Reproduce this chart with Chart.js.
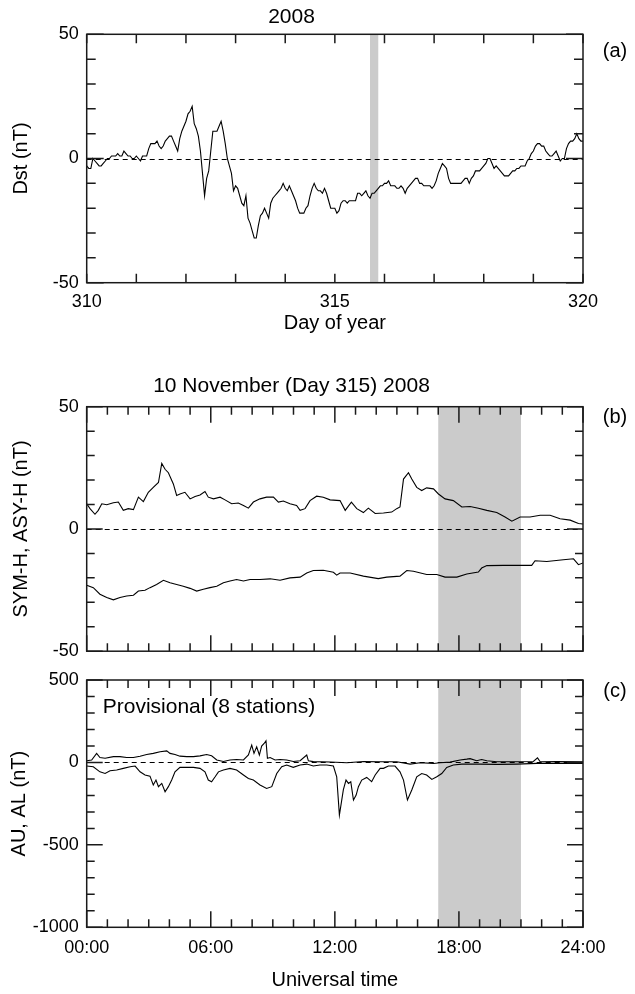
<!DOCTYPE html>
<html><head><meta charset="utf-8">
<script src="https://cdn.jsdelivr.net/npm/chart.js@4/dist/chart.umd.min.js"></script>
<style>
html,body{margin:0;padding:0;background:#fff;}
#wrap{position:relative;width:635px;height:994px;overflow:hidden;background:#fff;}
canvas{position:absolute;left:0;}
</style></head><body>
<div id="wrap">
<canvas id="ca" width="635" height="350" style="top:0px"></canvas>
<canvas id="cb" width="635" height="310" style="top:360px"></canvas>
<canvas id="cc" width="635" height="334" style="top:660px"></canvas>
</div>
<script>
// ---------- DATA ----------
// (a) hourly Dst (nT), starting day 310 00 UT, one value per hour
const dstStartDay = 310;
const dstHourly = [
 -3,-4,-4,0,-1,-2,-3,-3,-2,-1,
 0,0,1,1,1,2,1,1,3,2,
 1,1,0,0,1,0,-1,1,1,1,
 4,6,6,6,7,5,4,5,7,8,
 9,9,7,5,3,8,11,13,15,18,
 19,21,14,12,9,3,-6,-15,-8,-5,
 3,11,11,11,13,15,11,6,0,-3,
 -6,-13,-11,-12,-15,-18,-19,-15,-24,-26,
 -29,-32,-32,-27,-23,-22,-20,-22,-24,-18,
 -16,-15,-14,-13,-12,-10,-12,-13,-11,-13,
 -15,-17,-20,-22,-22,-22,-20,-19,-15,-12,
 -10,-12,-13,-13,-14,-12,-14,-17,-20,-20,
 -20,-22,-21,-18,-17,-17,-18,-17,-17,-17,
 -17,-14,-14,-15,-14,-13,-15,-16,-14,-14,
 -13,-12,-11,-11,-10,-10,-9,-11,-11,-11,
 -12,-12,-11,-12,-14,-12,-11,-10,-9,-8,
 -8,-10,-10,-11,-11,-11,-11,-12,-11,-9,
 -6,-4,-2,-3,-4,-8,-10,-10,-10,-10,
 -10,-10,-9,-8,-8,-10,-8,-7,-5,-5,
 -5,-4,-3,-2,0,0,-2,-4,-3,-4,
 -5,-6,-7,-7,-7,-6,-5,-5,-4,-4,
 -3,-3,-3,-1,0,2,3,5,6,6,
 5,5,3,2,1,1,2,3,1,-1,
 0,0,4,6,7,7,8,10,8,7,
 7];
const dayTickValues = [310, 315, 320];
const dstTickValues = [-50, 0, 50];
const dayBand = [315.708, 315.875];   // 17-21 UT on day 315

// (b) ASY-H and SYM-H on 10 Nov 2008 (UT hours, nT)
const asyTime = [0,0.16,0.4,0.56,0.73,0.97,1.29,1.53,1.77,2.01,2.26,2.5,2.74,2.98,3.22,3.47,3.63,3.79,3.95,4.19,4.35,4.51,4.75,5.0,5.24,5.48,5.72,5.88,6.13,6.45,6.69,7.01,7.33,7.58,7.82,8.06,8.38,8.7,9.03,9.27,9.51,9.83,10.15,10.32,10.56,10.8,11.12,11.44,11.77,12.25,12.5,12.8,13.06,13.38,13.62,13.95,14.35,14.75,14.99,15.15,15.32,15.56,15.72,15.96,16.2,16.44,16.77,17.01,17.33,17.73,18.14,18.54,18.94,19.35,19.83,20.23,20.56,20.96,21.44,21.93,22.41,22.89,23.38,23.78,24];
const asyH = [10.3,8.3,6,7.6,10.3,9.9,10.7,11,7.6,8.3,7.9,13,11.2,15,17,19,26.8,24.4,23,18.4,13.7,14.3,15,12.3,13.3,13.9,15.3,13,12.3,13,11.9,10.3,10.6,9.6,8.5,11,12.3,13,13,11,11.4,10.3,9.6,7.6,8.3,11.6,13.4,13,11.9,11.6,7.6,11,8.3,6.7,8.5,6.3,6.5,6.9,8.3,9,20.4,23,20.4,17,15.7,16.8,16.4,14.3,12.3,11.6,9,9.2,8.5,7.6,6.7,4.9,3.2,4.9,4.9,5.6,5.6,4.2,3.6,2.2,2];
const symTime = [0,0.32,0.64,0.97,1.29,1.61,1.93,2.26,2.5,2.82,3.06,3.38,3.71,4.03,4.35,4.67,5.0,5.32,5.64,5.96,6.29,6.61,6.93,7.25,7.58,7.9,8.38,8.87,9.35,9.83,10.32,10.64,10.96,11.44,11.93,12.09,12.25,12.74,13.38,14.1,14.51,15.15,15.48,15.8,16.44,16.93,17.33,17.9,18.38,18.94,19.1,19.35,20.15,20.96,21.52,21.68,22.25,23.05,23.54,23.78,24];
const symH = [-23,-24,-26.7,-28,-29,-28,-27.4,-27.1,-25.4,-25.1,-24,-22.7,-21,-22,-22.7,-23.4,-24.3,-25.4,-24.7,-24,-23.4,-22,-21.3,-20.7,-21.3,-20.7,-20.7,-20.4,-21,-20,-19.7,-18,-17,-16.9,-17.7,-18.9,-18,-18,-19.3,-20.3,-19.7,-19.3,-17,-17.3,-18.6,-18.6,-19.7,-19.7,-18.4,-17.6,-16,-15,-14.9,-14.9,-14.9,-13,-13.3,-12.6,-12.2,-14.6,-13.9];
const symTickValues = [-50, 0, 50];

// (c) AU and AL (provisional, 8 stations)
const auTime = [0,0.24,0.48,0.64,0.89,1.29,1.61,1.93,2.26,2.58,2.9,3.22,3.55,3.87,4.03,4.27,4.51,4.84,5.16,5.48,5.8,6.04,6.29,6.61,6.93,7.25,7.58,7.82,7.98,8.09,8.22,8.35,8.46,8.58,8.67,8.74,8.87,9.11,9.35,9.67,9.99,10.32,10.64,10.72,10.96,11.77,12.58,13.38,14.19,14.99,15.64,16.12,16.77,17.09,17.57,18.06,18.38,18.54,18.86,19.1,19.35,19.83,20.8,21.6,21.8,21.93,22.73,24];
const auValues = [10,15,55,30,25,35,35,30,30,38,48,55,65,70,55,48,38,35,35,40,48,40,15,6,15,18,15,45,105,55,95,45,99,115,131,25,30,15,18,15,6,10,45,10,5,3,-2,6,4,4,-10,-2,-6,-2,2,15,20,23,10,18,10,4,4,6,28,4,6,4];
const alTime = [0,0.32,0.64,0.89,1.13,1.45,1.77,2.1,2.34,2.58,2.82,3.06,3.22,3.35,3.47,3.63,3.79,3.95,4.11,4.27,4.51,4.84,5.16,5.48,5.72,5.88,6.04,6.21,6.37,6.61,6.93,7.25,7.58,7.82,8.06,8.38,8.7,8.95,9.19,9.43,9.67,9.99,10.32,10.64,10.96,11.28,11.61,11.93,12.09,12.22,12.41,12.54,12.66,12.77,12.9,13.03,13.14,13.3,13.54,13.78,13.95,14.19,14.35,14.59,14.91,15.15,15.32,15.51,15.72,15.96,16.2,16.44,16.69,16.93,17.17,17.41,17.73,18.14,18.54,19.02,19.83,20.8,21.76,22.73,24];
const alValues = [-22,-26,-57,-67,-50,-46,-36,-26,-22,-57,-76,-83,-137,-107,-147,-127,-178,-147,-107,-57,-30,-30,-30,-36,-57,-107,-117,-87,-57,-46,-36,-46,-76,-97,-107,-137,-158,-147,-67,-26,-16,-30,-16,-10,-22,-16,-16,-22,-87,-319,-167,-107,-127,-117,-228,-198,-147,-107,-91,-117,-76,-36,-36,-22,-22,-57,-107,-228,-167,-87,-67,-76,-103,-87,-67,-30,-16,-10,-10,-10,-12,-10,-6,-6,-6];
const auTickValues = [500, 0, -500, -1000];

const timeTickValues = [0, 6, 12, 18, 24];
const timeTickLabels = ['00:00', '06:00', '12:00', '18:00', '24:00'];
const hourBand = [17, 21];

// ---------- RENDERING ----------
Chart.defaults.font.family = '"Liberation Sans", Arial, Helvetica, sans-serif';
Chart.defaults.color = '#000';

function pairs(xs, ys) { return ys.map((v, i) => ({x: xs[i], y: v})); }
const dstPoints = dstHourly.map((v, i) => ({x: dstStartDay + i / 24, y: v}));

const panelPlugin = {
  id: 'panel',
  beforeDatasetsDraw(chart, args, o) {
    const {ctx, chartArea: a, scales: {x, y}} = chart;
    ctx.save();
    if (o.band) {
      const x0 = x.getPixelForValue(o.band[0]), x1 = x.getPixelForValue(o.band[1]);
      ctx.fillStyle = '#cbcbcb';
      ctx.fillRect(x0, a.top, x1 - x0, a.bottom - a.top);
    }
    const y0 = Math.round(y.getPixelForValue(0)) + 0.5;
    ctx.strokeStyle = '#000'; ctx.lineWidth = 1; ctx.setLineDash([5, 4]);
    ctx.beginPath(); ctx.moveTo(a.left, y0); ctx.lineTo(a.right, y0); ctx.stroke();
    ctx.restore();
  },
  afterDraw(chart, args, o) {
    const {ctx, chartArea: a, scales: {x, y}} = chart;
    ctx.save();
    ctx.strokeStyle = '#1a1a1a'; ctx.lineWidth = 1.5; ctx.setLineDash([]);
    ctx.beginPath();
    x.ticks.forEach(t => {
      const px = x.getPixelForValue(t.value);
      const len = o.xMajor.includes(t.value) ? o.majorLen : o.minorLen;
      ctx.moveTo(px, a.top); ctx.lineTo(px, a.top + len);
      ctx.moveTo(px, a.bottom); ctx.lineTo(px, a.bottom - len);
    });
    y.ticks.forEach(t => {
      const py = y.getPixelForValue(t.value);
      const len = o.yMajor.includes(t.value) ? o.majorLen : o.minorLen;
      ctx.moveTo(a.left, py); ctx.lineTo(a.left + len, py);
      ctx.moveTo(a.right, py); ctx.lineTo(a.right - len, py);
    });
    ctx.stroke();
    ctx.strokeRect(a.left, a.top, a.right - a.left, a.bottom - a.top);
    ctx.fillStyle = '#000';
    ctx.textBaseline = 'middle';
    ctx.font = '20px "Liberation Sans", Arial, sans-serif';
    ctx.textAlign = 'center';
    ctx.fillText(o.tag, a.right + 32, a.top + o.tagDy);
    if (o.note) {
      ctx.font = '21px "Liberation Sans", Arial, sans-serif';
      ctx.textAlign = 'left';
      ctx.fillText(o.note, a.left + 16, a.top + 27.7);
    }
    ctx.restore();
  }
};

function labelFrom(values, labels) {
  return v => { const i = values.indexOf(v); return i >= 0 ? labels[i] : ''; };
}

function makeChart(id, c) {
  return new Chart(document.getElementById(id), {
    type: 'line',
    data: {datasets: c.series.map(s => ({data: s, borderColor: '#000', borderWidth: 1.1,
      pointRadius: 0, tension: 0, fill: false}))},
    options: {
      responsive: false, animation: false, devicePixelRatio: 1,
      layout: {padding: c.padding},
      plugins: {
        legend: {display: false}, tooltip: {enabled: false},
        title: c.title ? {display: true, text: c.title, color: '#000',
          font: {size: 21, weight: 'normal'}, padding: c.titlePad} : {display: false},
        panel: c.panel
      },
      scales: {
        x: {type: 'linear', min: c.xmin, max: c.xmax,
          grid: {display: false, drawTicks: false}, border: {display: false},
          ticks: {display: c.xLabels, stepSize: 1, autoSkip: false, maxRotation: 0,
            padding: c.xTickPad, font: {size: 18}, callback: c.xCallback},
          title: {display: !!c.xTitle, text: c.xTitle || '', font: {size: 20},
            padding: {top: 0, bottom: c.xTitlePad}},
          afterFit: s => { s.height = c.xHeight; }},
        y: {type: 'linear', min: c.ymin, max: c.ymax,
          grid: {display: false, drawTicks: false}, border: {display: false},
          ticks: {stepSize: c.ystep, autoSkip: false, padding: 8, font: {size: 18},
            callback: labelFrom(c.yTicks, c.yTicks.map(String))},
          title: {display: true, text: c.yTitle, font: {size: 20},
            padding: {top: c.yTitlePad, bottom: 0}},
          afterFit: s => { s.width = 86.7; }}
      }
    },
    plugins: [panelPlugin]
  });
}

makeChart('ca', {
  series: [dstPoints],
  padding: {left: 0, right: 52, top: 0, bottom: 0},
  title: '2008', titlePad: {top: 4.4, bottom: 4.7},
  xmin: 310, xmax: 320, xLabels: true, xTickPad: 8.2,
  xCallback: labelFrom(dayTickValues, dayTickValues.map(String)),
  xTitle: 'Day of year', xTitlePad: 15, xHeight: 67.3,
  ymin: -50, ymax: 50, ystep: 10, yTicks: dstTickValues, yTitle: 'Dst (nT)', yTitlePad: 9,
  panel: {band: dayBand, xMajor: [], yMajor: dstTickValues, majorLen: 17, minorLen: 9, tag: '(a)', tagDy: 17}
});

makeChart('cb', {
  series: [pairs(asyTime, asyH), pairs(symTime, symH)],
  padding: {left: 0, right: 52, top: 0, bottom: 0},
  title: '10 November (Day 315) 2008', titlePad: {top: 14.1, bottom: 7.4},
  xmin: 0, xmax: 24, xLabels: false, xTickPad: 0,
  xCallback: labelFrom(timeTickValues, timeTickLabels),
  xTitle: null, xTitlePad: 0, xHeight: 15.7,
  ymin: -50, ymax: 50, ystep: 10, yTicks: symTickValues, yTitle: 'SYM-H, ASY-H (nT)', yTitlePad: 9,
  panel: {band: hourBand, xMajor: timeTickValues, yMajor: symTickValues, majorLen: 16, minorLen: 8, tag: '(b)', tagDy: 11}
});

makeChart('cc', {
  series: [pairs(auTime, auValues), pairs(alTime, alValues)],
  padding: {left: 0, right: 52, top: 20, bottom: 0},
  title: null,
  xmin: 0, xmax: 24, xLabels: true, xTickPad: 10.2,
  xCallback: labelFrom(timeTickValues, timeTickLabels),
  xTitle: 'Universal time', xTitlePad: 2, xHeight: 66.7,
  ymin: -1000, ymax: 500, ystep: 100, yTicks: auTickValues, yTitle: 'AU, AL (nT)', yTitlePad: 7,
  panel: {band: hourBand, xMajor: timeTickValues, yMajor: auTickValues, majorLen: 16, minorLen: 8, tag: '(c)', tagDy: 11,
    note: 'Provisional (8 stations)'}
});
</script>
</body></html>
